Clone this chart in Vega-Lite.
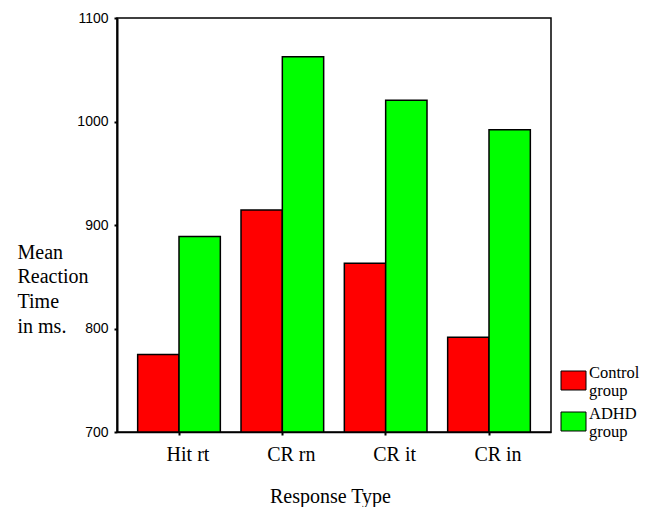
{
  "$schema": "https://vega.github.io/schema/vega-lite/v6.json",
  "width": 434,
  "height": 414,
  "autosize": {"type": "none"},
  "padding": {"left": 117, "top": 18, "right": 94, "bottom": 75},
  "background": "white",
  "data": {
    "values": [
      {"type": "Hit rt", "group": "Control group", "rt": 775},
      {"type": "Hit rt", "group": "ADHD group", "rt": 889},
      {"type": "CR rn", "group": "Control group", "rt": 914.5},
      {"type": "CR rn", "group": "ADHD group", "rt": 1062.5},
      {"type": "CR it", "group": "Control group", "rt": 863},
      {"type": "CR it", "group": "ADHD group", "rt": 1020.5},
      {"type": "CR in", "group": "Control group", "rt": 791.5},
      {"type": "CR in", "group": "ADHD group", "rt": 992}
    ]
  },
  "mark": {"type": "bar", "stroke": "black", "strokeWidth": 1.5},
  "encoding": {
    "x": {
      "field": "type",
      "type": "nominal",
      "sort": ["Hit rt", "CR rn", "CR it", "CR in"],
      "scale": {"paddingInner": 0.2, "paddingOuter": 0.2},
      "axis": {
        "title": "Response Type",
        "titleFont": "Times New Roman, Liberation Serif, serif",
        "titleFontSize": 20,
        "titleFontWeight": "normal",
        "titleColor": "black",
        "titleBaseline": "alphabetic",
        "titleY": 70,
        "titleX": 213,
        "labelAngle": 0,
        "labelFont": "Times New Roman, Liberation Serif, serif",
        "labelFontSize": 20,
        "labelColor": "black",
        "labelPadding": 9,
        "labelOffset": 9,
        "tickSize": 3,
        "tickWidth": 2,
        "tickColor": "black",
        "domainColor": "black",
        "domainWidth": 1.5
      }
    },
    "xOffset": {
      "field": "group",
      "type": "nominal",
      "sort": ["Control group", "ADHD group"],
      "scale": {"paddingInner": 0, "paddingOuter": 0}
    },
    "y": {
      "field": "rt",
      "type": "quantitative",
      "scale": {"domain": [700, 1100], "zero": false, "nice": false},
      "axis": {
        "values": [700, 800, 900, 1000, 1100],
        "format": "d",
        "grid": false,
        "title": ["Mean", "Reaction", "Time", "in ms."],
        "titleAngle": 0,
        "titleAlign": "left",
        "titleBaseline": "alphabetic",
        "titleX": -100,
        "titleY": 240,
        "titleLineHeight": 24.7,
        "titleFont": "Times New Roman, Liberation Serif, serif",
        "titleFontSize": 20,
        "titleFontWeight": "normal",
        "titleColor": "black",
        "labelFont": "Arial, Liberation Sans, sans-serif",
        "labelFontSize": 14,
        "labelColor": "black",
        "labelPadding": 6,
        "tickSize": 3,
        "tickWidth": 2,
        "tickColor": "black",
        "domainColor": "black",
        "domainWidth": 2
      }
    },
    "y2": {"datum": 700},
    "color": {
      "field": "group",
      "type": "nominal",
      "sort": ["Control group", "ADHD group"],
      "scale": {"domain": ["Control group", "ADHD group"], "range": ["#ff0000", "#00ff00"]},
      "legend": {
        "title": null,
        "orient": "none",
        "legendX": 446,
        "legendY": 352,
        "padding": 0,
        "symbolType": "M-1.25,-0.95H1.25V0.95H-1.25Z",
        "symbolSize": 400,
        "symbolStrokeColor": "black",
        "symbolStrokeWidth": 1,
        "symbolOpacity": 1,
        "labelExpr": "split(datum.label, ' ')",
        "labelFont": "Times New Roman, Liberation Serif, serif",
        "labelFontSize": 16.5,
        "labelLineHeight": 16,
        "labelBaseline": "bottom",
        "labelColor": "black",
        "labelOffset": 5,
        "labelLimit": 200,
        "rowPadding": 5
      }
    }
  },
  "config": {
    "view": {"stroke": "black", "strokeWidth": 1.5}
  }
}
